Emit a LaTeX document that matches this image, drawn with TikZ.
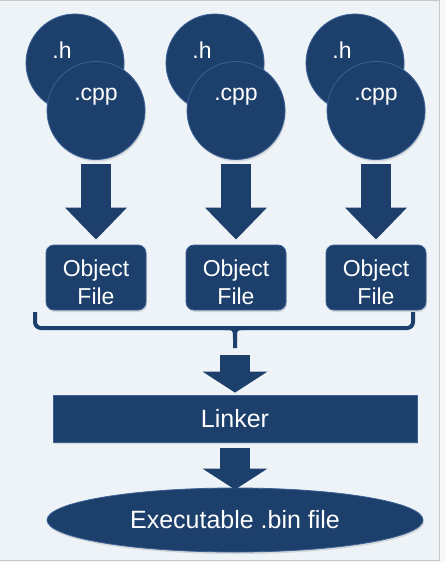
\documentclass[tikz,border=0pt]{standalone}
\usepackage{fontspec}
\setmainfont{Liberation Sans}
\usetikzlibrary{arrows.meta,shapes.geometric,shadows}
\definecolor{navy}{HTML}{1D3F6C}
\definecolor{navyrim}{HTML}{3B6196}
\definecolor{bgpale}{HTML}{EEF3F7}
\tikzset{
  src/.style={circle,draw=navyrim,fill=navy,minimum size=98pt,inner sep=0pt,line width=.8pt,
    drop shadow={opacity=.25,shadow xshift=1pt,shadow yshift=-2pt}},
  obj/.style={rounded corners=8pt,draw=navyrim,fill=navy,minimum width=100pt,minimum height=65pt,
    inner sep=0pt,line width=.8pt,
    drop shadow={opacity=.25,shadow xshift=1pt,shadow yshift=-2pt}},
  lnkr/.style={rectangle,draw=navyrim,fill=navy,minimum width=364pt,minimum height=47pt,
    inner sep=0pt,line width=.8pt,text=white,font=\fontsize{25}{30}\selectfont,
    drop shadow={opacity=.25,shadow xshift=1pt,shadow yshift=-2pt}},
  exe/.style={ellipse,draw=navyrim,fill=navy,minimum width=376pt,minimum height=64pt,
    inner sep=0pt,line width=.8pt,text=white,font=\fontsize{25}{30}\selectfont,
    drop shadow={opacity=.25,shadow xshift=1pt,shadow yshift=-2pt}},
  ft/.style={text=white,inner sep=0pt,align=center,font=\fontsize{23}{28}\selectfont},
  % block arrows: a wide shaft with a broad flat head
  blk/.style={-{Triangle[length=32pt,width=60pt]},line width=30pt,draw=navy},
  blks/.style={-{Triangle[length=21pt,width=64pt]},line width=30pt,draw=navy},
  brc/.style={draw=navy,line width=4pt},
}
\begin{document}
\begin{tikzpicture}[x=1pt,y=-1pt]
\useasboundingbox (0,0) rectangle (446,562);
\fill[black!3] (0,0) rectangle (446,562);
\filldraw[fill=bgpale,draw=black!22,line width=1pt] (0,0) -- (439,0) -- (439,560) -- (0,560);

% sources: one header and one body per object file
\foreach \i/\hx/\cx in {1/75/96,2/215/236,3/355/376}{
  \node[src] (h\i) at (\hx,63) {};
  \node[ft] at (\hx,63) [xshift=-13pt,yshift=13pt] {.h};
  \node[src] (c\i) at (\cx,110.5) {};
  \node[ft] at (\cx,110.5) [yshift=14pt] {.cpp};
  \node[obj] (o\i) at (\cx,277.5) {};
  \node[ft] at (o\i) [yshift=-5pt] {Object\\File};
  \draw[blk,shorten <=4pt,shorten >=5pt] (c\i) -- (o\i);
}

% bracket collecting the three object files
\coordinate (bl) at (35,312); \coordinate (br) at (413,312);
\coordinate (bm) at (235,328); \coordinate (bt) at (235,348);
\draw[brc,rounded corners=6pt] (bl) -- (35,328) -- (413,328) -- (br);
\draw[brc] (224,328) .. controls (235,328) .. (bm |- 0,339) -- (bt);
\draw[brc] (246,328) .. controls (235,328) .. (bm |- 0,339);

\node[lnkr] (lk) at (235,418.5) {Linker};
\node[exe] (ex) at (235,520) {Executable .bin file};
\draw[blks,shorten <=7pt,shorten >=2pt] (bt) -- (lk);
\draw[blks,shorten <=6pt,shorten >=-2pt] (lk) -- (ex);
\end{tikzpicture}
\end{document}
